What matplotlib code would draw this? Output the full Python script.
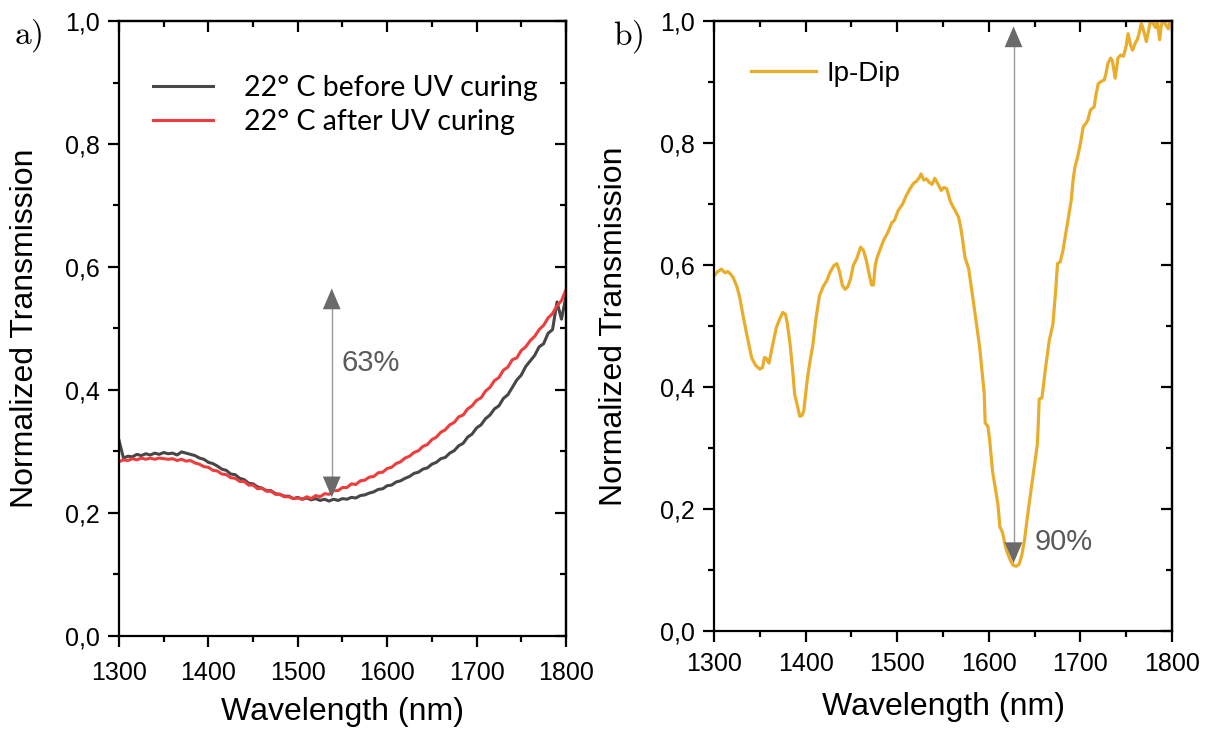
import matplotlib
matplotlib.use("Agg")
import matplotlib.pyplot as plt
from matplotlib.ticker import MultipleLocator, FuncFormatter
from matplotlib.patches import FancyArrowPatch

plt.rcParams['font.family'] = ['Liberation Sans', 'DejaVu Sans']
plt.rcParams['mathtext.fontset'] = 'cm'

# ---------------- data ----------------
# panel a: transmission spectra before / after UV curing (5 nm grid)
wl_a = list(range(1300, 1805, 5))
before_uv = [
    .318, .289, .292, .291, .295, .293, .296, .294, .297, .295,
    .298, .296, .297, .294, .299, .297, .295, .293, .289, .287,
    .282, .280, .276, .271, .269, .263, .262, .256, .254, .248,
    .247, .242, .240, .236, .236, .231, .230, .227, .227, .223,
    .225, .222, .224, .221, .223, .220, .222, .219, .222, .220,
    .223, .222, .225, .224, .228, .229, .232, .234, .238, .239,
    .244, .245, .250, .252, .256, .259, .264, .266, .271, .273,
    .279, .282, .288, .290, .297, .301, .309, .313, .323, .328,
    .338, .343, .353, .359, .369, .374, .386, .392, .404, .416,
    .424, .438, .447, .456, .470, .475, .492, .498, .543, .515,
    .552]
after_uv = [
    .283, .286, .285, .288, .286, .289, .287, .289, .287, .289,
    .288, .287, .288, .285, .287, .284, .285, .281, .279, .275,
    .274, .269, .268, .263, .262, .257, .256, .251, .251, .245,
    .245, .239, .240, .235, .235, .230, .230, .226, .226, .223,
    .224, .222, .226, .223, .228, .226, .231, .230, .236, .236,
    .241, .241, .247, .246, .252, .253, .258, .259, .265, .266,
    .272, .274, .280, .283, .289, .292, .298, .301, .308, .311,
    .319, .323, .331, .335, .343, .347, .356, .359, .369, .374,
    .383, .387, .398, .404, .415, .420, .432, .437, .449, .452,
    .464, .470, .480, .487, .498, .505, .517, .524, .537, .545,
    .563]
labels_a = ["22° C before UV curing", "22° C after UV curing"]

# panel b: Ip-Dip spectrum
wl_b = [
    1300, 1304, 1308, 1312, 1315, 1318, 1321, 1325, 1328, 1332,
    1336, 1341, 1345, 1350, 1353, 1355, 1357, 1360, 1364, 1368,
    1371, 1375, 1378, 1380, 1383, 1386, 1388, 1391, 1393.5, 1396,
    1398, 1402, 1405, 1408, 1411, 1415, 1419, 1423, 1427, 1431,
    1434, 1437, 1440, 1443, 1446, 1449, 1452, 1456, 1460, 1463,
    1466, 1469, 1472, 1474, 1476, 1478, 1481, 1485, 1490, 1494,
    1497, 1501, 1506, 1510, 1514, 1518, 1521, 1525, 1526, 1529,
    1532, 1535, 1538, 1541, 1544, 1548, 1551, 1554, 1558, 1561,
    1564, 1567, 1569, 1571, 1574, 1578, 1582, 1586, 1590, 1593,
    1595, 1596, 1599, 1601, 1604, 1607, 1610, 1612, 1615, 1618,
    1621, 1624, 1627, 1630, 1633, 1636, 1639, 1642, 1645, 1648,
    1651, 1653, 1654, 1655, 1658, 1662, 1666, 1670, 1673, 1675,
    1678, 1681, 1684, 1687, 1690, 1692, 1694, 1697, 1700, 1703,
    1706, 1708, 1711, 1715, 1717, 1719.5, 1723, 1726, 1728, 1730,
    1733, 1735, 1738, 1741, 1744, 1747, 1750, 1752, 1755, 1757,
    1760, 1762, 1764, 1766.5, 1769, 1772, 1775, 1777, 1780, 1782,
    1784, 1786.5, 1788, 1790, 1793, 1796, 1798, 1800]
ipdip = [
    .583, .590, .594, .588, .590, .586, .580, .565, .548, .515,
    .485, .449, .437, .430, .433, .449, .448, .440, .470, .498,
    .510, .523, .520, .505, .471, .425, .389, .370, .353, .354,
    .362, .416, .445, .471, .510, .550, .565, .575, .590, .600,
    .603, .590, .568, .561, .565, .578, .600, .612, .630, .625,
    .610, .588, .568, .568, .600, .613, .625, .641, .655, .670,
    .674, .690, .701, .715, .726, .735, .738, .746, .750, .740,
    .742, .736, .733, .743, .735, .723, .728, .726, .705, .696,
    .688, .679, .665, .646, .613, .595, .553, .510, .466, .420,
    .390, .342, .336, .313, .263, .235, .208, .172, .162, .140,
    .126, .115, .108, .107, .110, .125, .150, .186, .220, .252,
    .285, .307, .340, .381, .383, .433, .477, .504, .559, .603,
    .606, .625, .652, .680, .707, .740, .761, .778, .800, .827,
    .833, .838, .855, .860, .880, .898, .902, .904, .915, .931,
    .940, .935, .907, .940, .945, .943, .960, .980, .960, .953,
    .965, .970, .980, .997, .985, .967, .990, 1.005, .995, .990,
    1.000, .970, .990, 1.003, .995, .988, 1.000, 1.000]
label_b = "Ip-Dip"

# annotation arrows: (wavelength, lower tip, upper tip, text, text x, text y)
arrow_a = (1538, 0.225, 0.565, "63%", 1549, 0.443)
arrow_b = (1627, 0.112, 0.992, "90%", 1650, 0.147)

# ---------------- styling ----------------
C_BEFORE = "#474747"
C_AFTER = "#ef3d3d"
C_IPDIP = "#e9ad2b"
SPINE_LW = 1.6
MAJ_LEN, MIN_LEN = 8.0, 4.3


def comma_fmt(v, pos):
    return f"{v:.1f}".replace(".", ",")


def style_axes(ax, xpad, ypad):
    ax.set_xlim(1300, 1800)
    ax.set_ylim(0, 1.0)
    ax.xaxis.set_major_locator(MultipleLocator(100))
    ax.xaxis.set_minor_locator(MultipleLocator(50))
    ax.yaxis.set_major_locator(MultipleLocator(0.2))
    ax.yaxis.set_minor_locator(MultipleLocator(0.1))
    ax.yaxis.set_major_formatter(FuncFormatter(comma_fmt))
    for s in ax.spines.values():
        s.set_linewidth(SPINE_LW)
    ax.tick_params(which='both', direction='out', width=SPINE_LW,
                   labelsize=18, top=False, right=False)
    ax.tick_params(which='major', length=MAJ_LEN)
    ax.tick_params(which='minor', length=MIN_LEN)
    ax.tick_params(axis='x', pad=xpad)
    ax.tick_params(axis='y', pad=ypad)
    # mirrored inward ticks on top and right
    top = ax.secondary_xaxis('top')
    top.xaxis.set_major_locator(MultipleLocator(100))
    top.xaxis.set_minor_locator(MultipleLocator(50))
    right = ax.secondary_yaxis('right')
    right.yaxis.set_major_locator(MultipleLocator(0.2))
    right.yaxis.set_minor_locator(MultipleLocator(0.1))
    for sec in (top, right):
        for s in sec.spines.values():
            s.set_linewidth(SPINE_LW)
        sec.tick_params(which='both', direction='in', width=SPINE_LW,
                        labeltop=False, labelright=False)
        sec.tick_params(which='major', length=MAJ_LEN)
        sec.tick_params(which='minor', length=MIN_LEN)
    ax.set_xlabel("Wavelength (nm)", fontsize=23)
    ax.set_ylabel("Normalized Transmission", fontsize=23)


def double_arrow(ax, spec):
    x, y0, y1, txt, tx, ty = spec
    ax.plot([x, x], [y0 + 0.02, y1 - 0.02], color="#9a9a9a", lw=1.0, zorder=4)
    for ya, yb in ((y0 + 0.03, y0), (y1 - 0.03, y1)):
        ax.add_patch(FancyArrowPatch((x, ya), (x, yb),
                                     arrowstyle="-|>,head_length=0.75,head_width=0.32",
                                     mutation_scale=20, color="#6a6a6a", lw=0,
                                     shrinkA=0, shrinkB=0, zorder=5))
    ax.text(tx, ty, txt, fontsize=21, color="#5a5a5a", ha="left", va="center")


fig = plt.figure(figsize=(12.08, 7.33), dpi=100)
ax_a = fig.add_axes([0.0985, 0.1328, 0.3700, 0.8384])
ax_b = fig.add_axes([0.5911, 0.1385, 0.3791, 0.8322])

# ---- panel a ----
ax_a.plot(wl_a, before_uv, color=C_BEFORE, lw=2.2, label=labels_a[0])
ax_a.plot(wl_a, after_uv, color=C_AFTER, lw=2.2, label=labels_a[1])
style_axes(ax_a, xpad=10, ypad=6)
double_arrow(ax_a, arrow_a)
ax_a.legend(loc="upper left", bbox_to_anchor=(0.076, 0.912), frameon=False,
            prop={"family": "Lato", "size": 20.5}, handlelength=2.1,
            handletextpad=1.1, labelspacing=0.26, borderpad=0,
            borderaxespad=0)
ax_a.yaxis.set_label_coords(-0.177, 0.5)
ax_a.xaxis.set_label_coords(0.5, -0.100)

# ---- panel b ----
ax_b.plot(wl_b, ipdip, color=C_IPDIP, lw=2.3, label=label_b)
style_axes(ax_b, xpad=6.5, ypad=6)
double_arrow(ax_b, arrow_b)
ax_b.legend(loc="upper left", bbox_to_anchor=(0.081, 0.936), frameon=False,
            prop={"size": 20}, handlelength=2.35, handletextpad=0.35,
            borderpad=0, borderaxespad=0)
ax_b.yaxis.set_label_coords(-0.186, 0.5)
ax_b.xaxis.set_label_coords(0.5, -0.100)

# panel tags
fig.text(28 / 1208, 1 - 36 / 733, r"$\mathrm{a)}$", fontsize=24,
         ha="center", va="center")
fig.text(628 / 1208, 1 - 37 / 733, r"$\mathrm{b)}$", fontsize=24,
         ha="center", va="center")

fig.savefig("out.png", dpi=100)
